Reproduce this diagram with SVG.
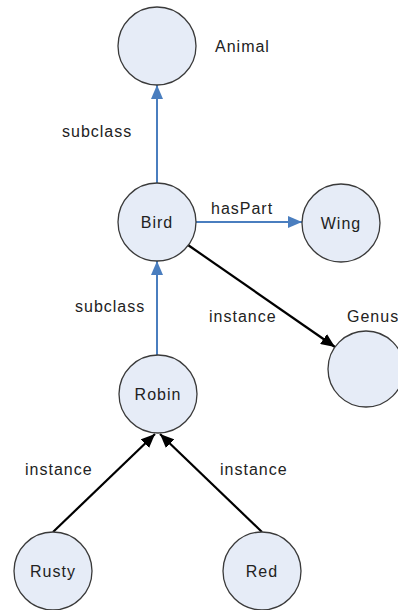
<svg xmlns="http://www.w3.org/2000/svg" width="398" height="610" viewBox="0 0 398 610">
  <style>
    .node { fill: #e6ecf7; stroke: #3a3a3a; stroke-width: 1.3; }
    .lbl { font-family: "Liberation Sans", Arial, sans-serif; font-size: 16px; fill: #222; letter-spacing: 1px; }
    .mid { text-anchor: middle; }
    .blue { stroke: #4a7ebf; stroke-width: 2; fill: none; }
    .black { stroke: #000; stroke-width: 2.2; fill: none; }
  </style>
  <defs>
    <marker id="headBlue" viewBox="0 0 14 12" refX="14" refY="6" markerWidth="14" markerHeight="12" markerUnits="userSpaceOnUse" orient="auto">
      <path d="M0,0 L14,6 L0,12 z" fill="#4a7ebf"/>
    </marker>
    <marker id="headBlack" viewBox="0 0 14 12" refX="14" refY="6" markerWidth="14" markerHeight="12" markerUnits="userSpaceOnUse" orient="auto">
      <path d="M0,0 L14,6 L0,12 z" fill="#000"/>
    </marker>
  </defs>
  <rect width="398" height="610" fill="#fff"/>

  <g id="connectors">
    <line class="blue" x1="157" y1="183" x2="157" y2="85" marker-end="url(#headBlue)"/>
    <line class="blue" x1="157" y1="355" x2="157" y2="261" marker-end="url(#headBlue)"/>
    <line class="blue" x1="196" y1="222" x2="302" y2="222" marker-end="url(#headBlue)"/>
    <line class="black" x1="188" y1="245" x2="335" y2="347" marker-end="url(#headBlack)"/>
    <line class="black" x1="53" y1="532" x2="155" y2="434" marker-end="url(#headBlack)"/>
    <line class="black" x1="262" y1="532" x2="160" y2="434" marker-end="url(#headBlack)"/>
    <text class="lbl" x="62" y="137">subclass</text>
    <text class="lbl" x="75" y="312">subclass</text>
    <text class="lbl" x="211" y="214">hasPart</text>
    <text class="lbl" x="209" y="322">instance</text>
    <text class="lbl" x="25" y="475">instance</text>
    <text class="lbl" x="220" y="475">instance</text>
  </g>

  <g id="animal">
    <circle class="node" cx="157" cy="46" r="39"/>
    <text class="lbl" x="215" y="52">Animal</text>
  </g>
  <g id="bird">
    <circle class="node" cx="157" cy="222" r="39"/>
    <text class="lbl mid" x="157" y="228">Bird</text>
  </g>
  <g id="wing">
    <circle class="node" cx="341" cy="223" r="39"/>
    <text class="lbl mid" x="341" y="229">Wing</text>
  </g>
  <g id="genus">
    <circle class="node" cx="366" cy="369" r="38"/>
    <text class="lbl" x="347" y="322">Genus</text>
  </g>
  <g id="robin">
    <circle class="node" cx="158" cy="394" r="39"/>
    <text class="lbl mid" x="158" y="400">Robin</text>
  </g>
  <g id="rusty">
    <circle class="node" cx="53" cy="571" r="39"/>
    <text class="lbl mid" x="53" y="577">Rusty</text>
  </g>
  <g id="red">
    <circle class="node" cx="262" cy="571" r="39"/>
    <text class="lbl mid" x="262" y="577">Red</text>
  </g>
</svg>
